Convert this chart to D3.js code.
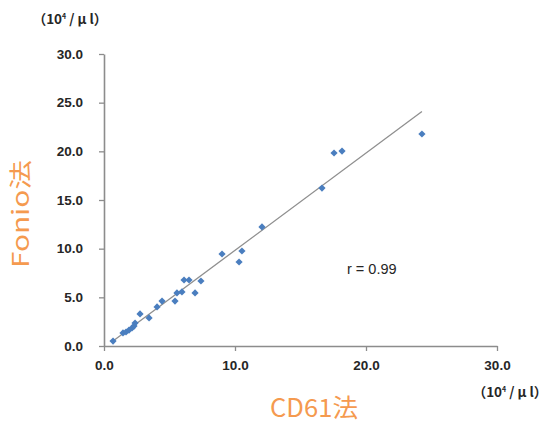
<!DOCTYPE html>
<html>
<head>
<meta charset="utf-8">
<script src="https://cdn.jsdelivr.net/npm/d3@7.9.0/dist/d3.min.js"></script>
<style>
  body { margin: 0; background: #fff; }
  svg { display: block; }
</style>
</head>
<body>
<svg id="chart" width="549" height="424"></svg>
<script>
// CD61 method (x) vs Fonio method (y), unit 10^4/ul
const cd61 = [0.69, 1.45, 1.68, 1.91, 2.14, 2.29, 2.37, 2.75, 3.44, 4.05, 4.43, 5.42, 5.57,
  5.95, 6.11, 6.49, 6.95, 7.40, 9.01, 10.31, 10.53, 12.06, 16.64, 17.56, 18.17, 24.27];
const fonio = [0.51, 1.34, 1.44, 1.64, 1.85, 2.05, 2.36, 3.29, 2.88, 4.01, 4.62, 4.62, 5.45,
  5.55, 6.78, 6.78, 5.45, 6.68, 9.45, 8.63, 9.76, 12.23, 16.23, 19.83, 20.03, 21.78];
const xTicks = [0, 10, 20, 30];
const yTicks = [0, 5, 10, 15, 20, 25, 30];
const rLabel = "r = 0.99";

const points = cd61.map((x, i) => ({ x, y: fonio[i] }));

const svg = d3.select("#chart");
const axisColor = "#8c8c8c";
const textColor = "#262626";
const orange = "#f59a4f";

const x = d3.scaleLinear().domain([0, 30]).range([104, 497]);
const y = d3.scaleLinear().domain([0, 30]).range([346, 54]);

// least squares trend line over the data range
const mx = d3.mean(cd61);
const my = d3.mean(fonio);
const slope = d3.sum(points, (d) => (d.x - mx) * (d.y - my)) / d3.sum(points, (d) => (d.x - mx) ** 2);
const intercept = my - slope * mx;
const [x0, x1] = d3.extent(cd61);

svg.append("line")
  .attr("x1", x(x0)).attr("y1", y(intercept + slope * x0))
  .attr("x2", x(x1)).attr("y2", y(intercept + slope * x1))
  .attr("stroke", "#8f8f8f")
  .attr("stroke-width", 1.3);

// axes
const xAxis = svg.append("g")
  .attr("transform", `translate(0,${y(0)})`)
  .call(d3.axisBottom(x).tickValues(xTicks).tickSize(5).tickSizeOuter(0).tickFormat(d3.format(".1f")));
const yAxis = svg.append("g")
  .attr("transform", `translate(${x(0)},0)`)
  .call(d3.axisLeft(y).tickValues(yTicks).tickSize(5).tickSizeOuter(0).tickFormat(d3.format(".1f")));

[xAxis, yAxis].forEach((g) => {
  g.select(".domain").attr("stroke", axisColor).attr("stroke-width", 1.6);
  g.selectAll(".tick line").attr("stroke", axisColor).attr("stroke-width", 1.3);
  g.selectAll(".tick text")
    .attr("fill", textColor)
    .attr("font-family", "Liberation Sans, Arial, sans-serif")
    .attr("font-size", 13.5)
    .attr("font-weight", "bold");
});
xAxis.selectAll(".tick text").attr("dy", "1.15em");
yAxis.selectAll(".tick text").attr("x", -21);

// points (square diamonds)
const diamond = d3.symbol().type(d3.symbolSquare).size(26);
svg.append("g")
  .selectAll("path")
  .data(points)
  .join("path")
  .attr("d", diamond)
  .attr("transform", (d) => `translate(${x(d.x)},${y(d.y)}) rotate(45)`)
  .attr("fill", "#4a7ebf");

// unit labels
function unitLabel(cx, cy) {
  const t = svg.append("text")
    .attr("x", cx).attr("y", cy)
    .attr("text-anchor", "middle")
    .attr("fill", textColor)
    .attr("font-family", "Noto Sans CJK JP, sans-serif")
    .attr("font-size", 13.5)
    .attr("font-weight", "bold");
  t.append("tspan").text("（10");
  t.append("tspan").attr("font-size", 7).attr("dy", -5).text("4");
  t.append("tspan").attr("dy", 5).text(" / μ l）");
}
unitLabel(70, 24);
unitLabel(510, 397);

// r value
svg.append("text")
  .attr("x", 347).attr("y", 274)
  .attr("fill", textColor)
  .attr("font-family", "Liberation Sans, Arial, sans-serif")
  .attr("font-size", 14.5)
  .text(rLabel);

// axis titles
svg.append("text")
  .attr("transform", "translate(29,214) rotate(-90)")
  .attr("text-anchor", "middle")
  .attr("fill", orange)
  .attr("font-family", "Noto Sans CJK JP, sans-serif")
  .attr("font-size", 23)
  .attr("textLength", 108)
  .attr("lengthAdjust", "spacingAndGlyphs")
  .text("Fonio法");

svg.append("text")
  .attr("x", 314).attr("y", 417)
  .attr("text-anchor", "middle")
  .attr("fill", orange)
  .attr("font-family", "Noto Sans CJK JP, sans-serif")
  .attr("font-size", 25)
  .attr("textLength", 88)
  .attr("lengthAdjust", "spacingAndGlyphs")
  .text("CD61法");
</script>
</body>
</html>
